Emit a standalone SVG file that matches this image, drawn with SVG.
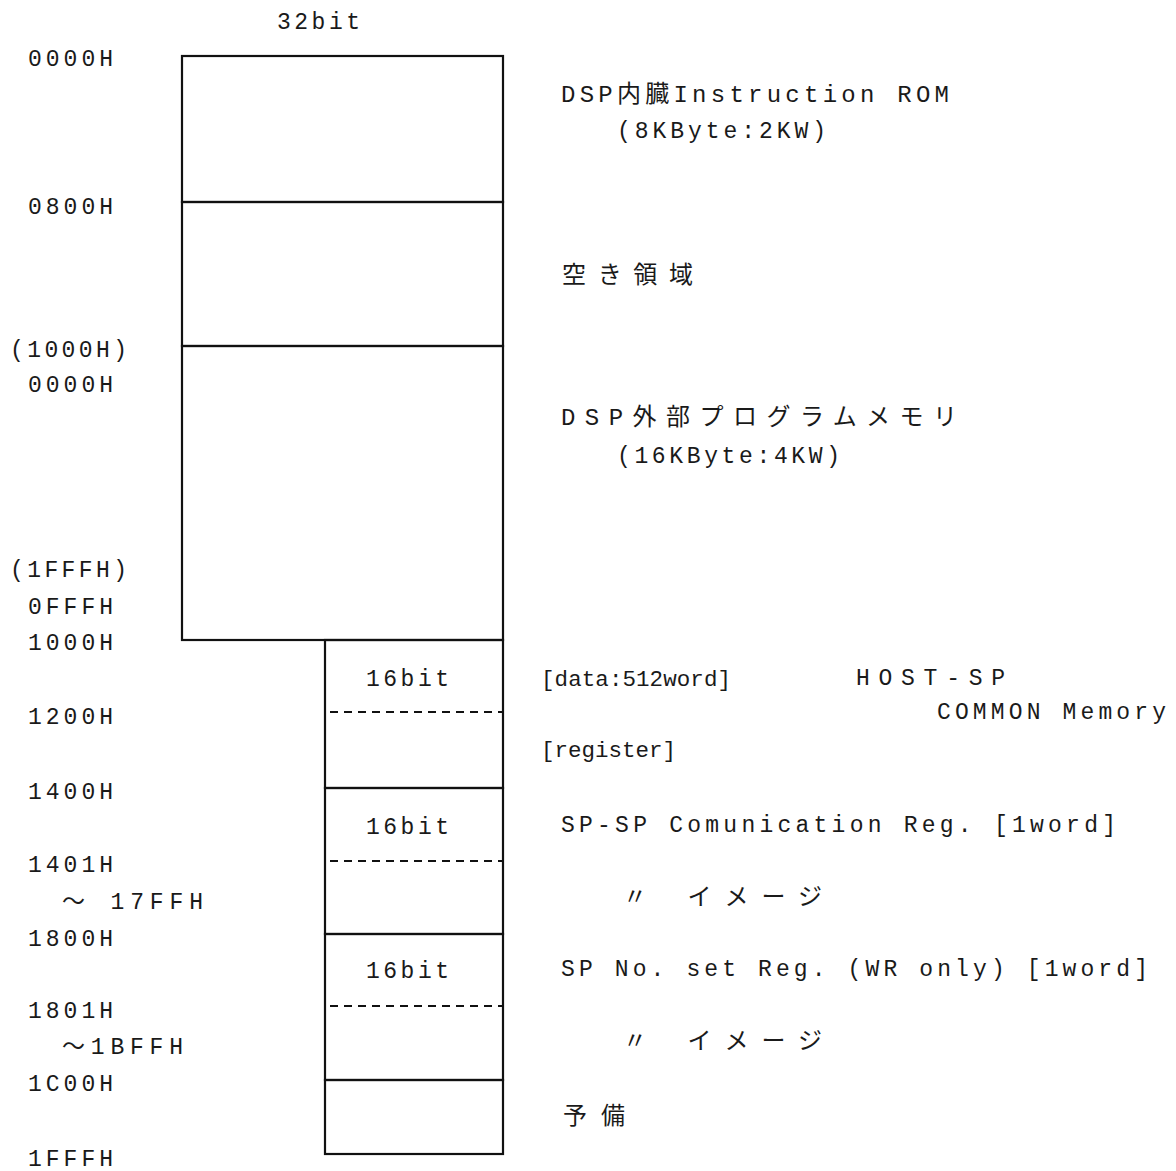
<svg xmlns="http://www.w3.org/2000/svg" width="1176" height="1171" viewBox="0 0 1176 1171">
<style>
text{font-family:"Liberation Mono","Noto Sans CJK JP",monospace;font-size:23px;fill:#1a1a1a}
.j{font-family:"Liberation Mono","Noto Sans CJK JP",monospace;font-size:24px}
.s{font-size:22.5px}
.box{fill:none;stroke:#111;stroke-width:2.2}
.dash{stroke:#111;stroke-width:2.2;stroke-dasharray:8 6}
</style>
<rect width="1176" height="1171" fill="#fff"/>
<text x="277" y="29" textLength="83" lengthAdjust="spacing">32bit</text>

<g id="addresses">
<text x="28" y="66" textLength="85" lengthAdjust="spacing">0000H</text>
<text x="28" y="214" textLength="85" lengthAdjust="spacing">0800H</text>
<text x="10" y="357" textLength="117" lengthAdjust="spacing">(1000H)</text>
<text x="28" y="392" textLength="85" lengthAdjust="spacing">0000H</text>
<text x="10" y="577" textLength="117" lengthAdjust="spacing">(1FFFH)</text>
<text x="28" y="614" textLength="85" lengthAdjust="spacing">0FFFH</text>
<text x="28" y="650" textLength="85" lengthAdjust="spacing">1000H</text>
<text x="28" y="724" textLength="85" lengthAdjust="spacing">1200H</text>
<text x="28" y="799" textLength="85" lengthAdjust="spacing">1400H</text>
<text x="28" y="872" textLength="85" lengthAdjust="spacing">1401H</text>
<text x="62" y="909" textLength="141" lengthAdjust="spacing">～ 17FFH</text>
<text x="28" y="946" textLength="85" lengthAdjust="spacing">1800H</text>
<text x="28" y="1018" textLength="85" lengthAdjust="spacing">1801H</text>
<text x="62" y="1054" textLength="121" lengthAdjust="spacing">～1BFFH</text>
<text x="28" y="1091" textLength="85" lengthAdjust="spacing">1C00H</text>
<text x="28" y="1166" textLength="85" lengthAdjust="spacing">1FFFH</text>
</g>

<g id="rom">
<rect class="box" x="182" y="56" width="321" height="146"/>
<text class="j" x="561" y="102" textLength="388" lengthAdjust="spacing">DSP内臓Instruction ROM</text>
<text x="617" y="138" textLength="209" lengthAdjust="spacing">(8KByte:2KW)</text>
</g>

<g id="free">
<rect class="box" x="182" y="202" width="321" height="144"/>
<text class="j" x="562" y="283" textLength="131" lengthAdjust="spacing">空き領域</text>
</g>

<g id="extmem">
<rect class="box" x="182" y="346" width="321" height="294"/>
<text class="j" x="561" y="425" textLength="396" lengthAdjust="spacing">DSP外部プログラムメモリ</text>
<text x="617" y="463" textLength="223" lengthAdjust="spacing">(16KByte:4KW)</text>
</g>

<g id="common">
<rect class="box" x="325" y="640" width="178" height="148"/>
<line class="dash" x1="330" y1="712" x2="503" y2="712"/>
<text x="366" y="686" textLength="83" lengthAdjust="spacing">16bit</text>
<text class="s" x="541" y="686" textLength="190" lengthAdjust="spacing">[data:512word]</text>
<text x="856" y="685" textLength="149" lengthAdjust="spacing">HOST-SP</text>
<text x="937" y="719" textLength="229" lengthAdjust="spacing">COMMON Memory</text>
<text class="s" x="541" y="757" textLength="135" lengthAdjust="spacing">[register]</text>
</g>

<g id="spsp">
<rect class="box" x="325" y="788" width="178" height="146"/>
<line class="dash" x1="330" y1="861" x2="503" y2="861"/>
<text x="366" y="834" textLength="83" lengthAdjust="spacing">16bit</text>
<text x="561" y="832" textLength="555" lengthAdjust="spacing">SP-SP Comunication Reg. [1word]</text>
<text class="j" x="623" y="905" textLength="199" lengthAdjust="spacing">〃 イメージ</text>
</g>

<g id="spno">
<rect class="box" x="325" y="934" width="178" height="146"/>
<line class="dash" x1="330" y1="1006" x2="503" y2="1006"/>
<text x="366" y="978" textLength="83" lengthAdjust="spacing">16bit</text>
<text x="561" y="976" textLength="587" lengthAdjust="spacing">SP No. set Reg. (WR only) [1word]</text>
<text class="j" x="623" y="1049" textLength="199" lengthAdjust="spacing">〃 イメージ</text>
</g>

<g id="reserve">
<rect class="box" x="325" y="1080" width="178" height="74"/>
<text class="j" x="563" y="1124" textLength="62" lengthAdjust="spacing">予備</text>
</g>
</svg>
